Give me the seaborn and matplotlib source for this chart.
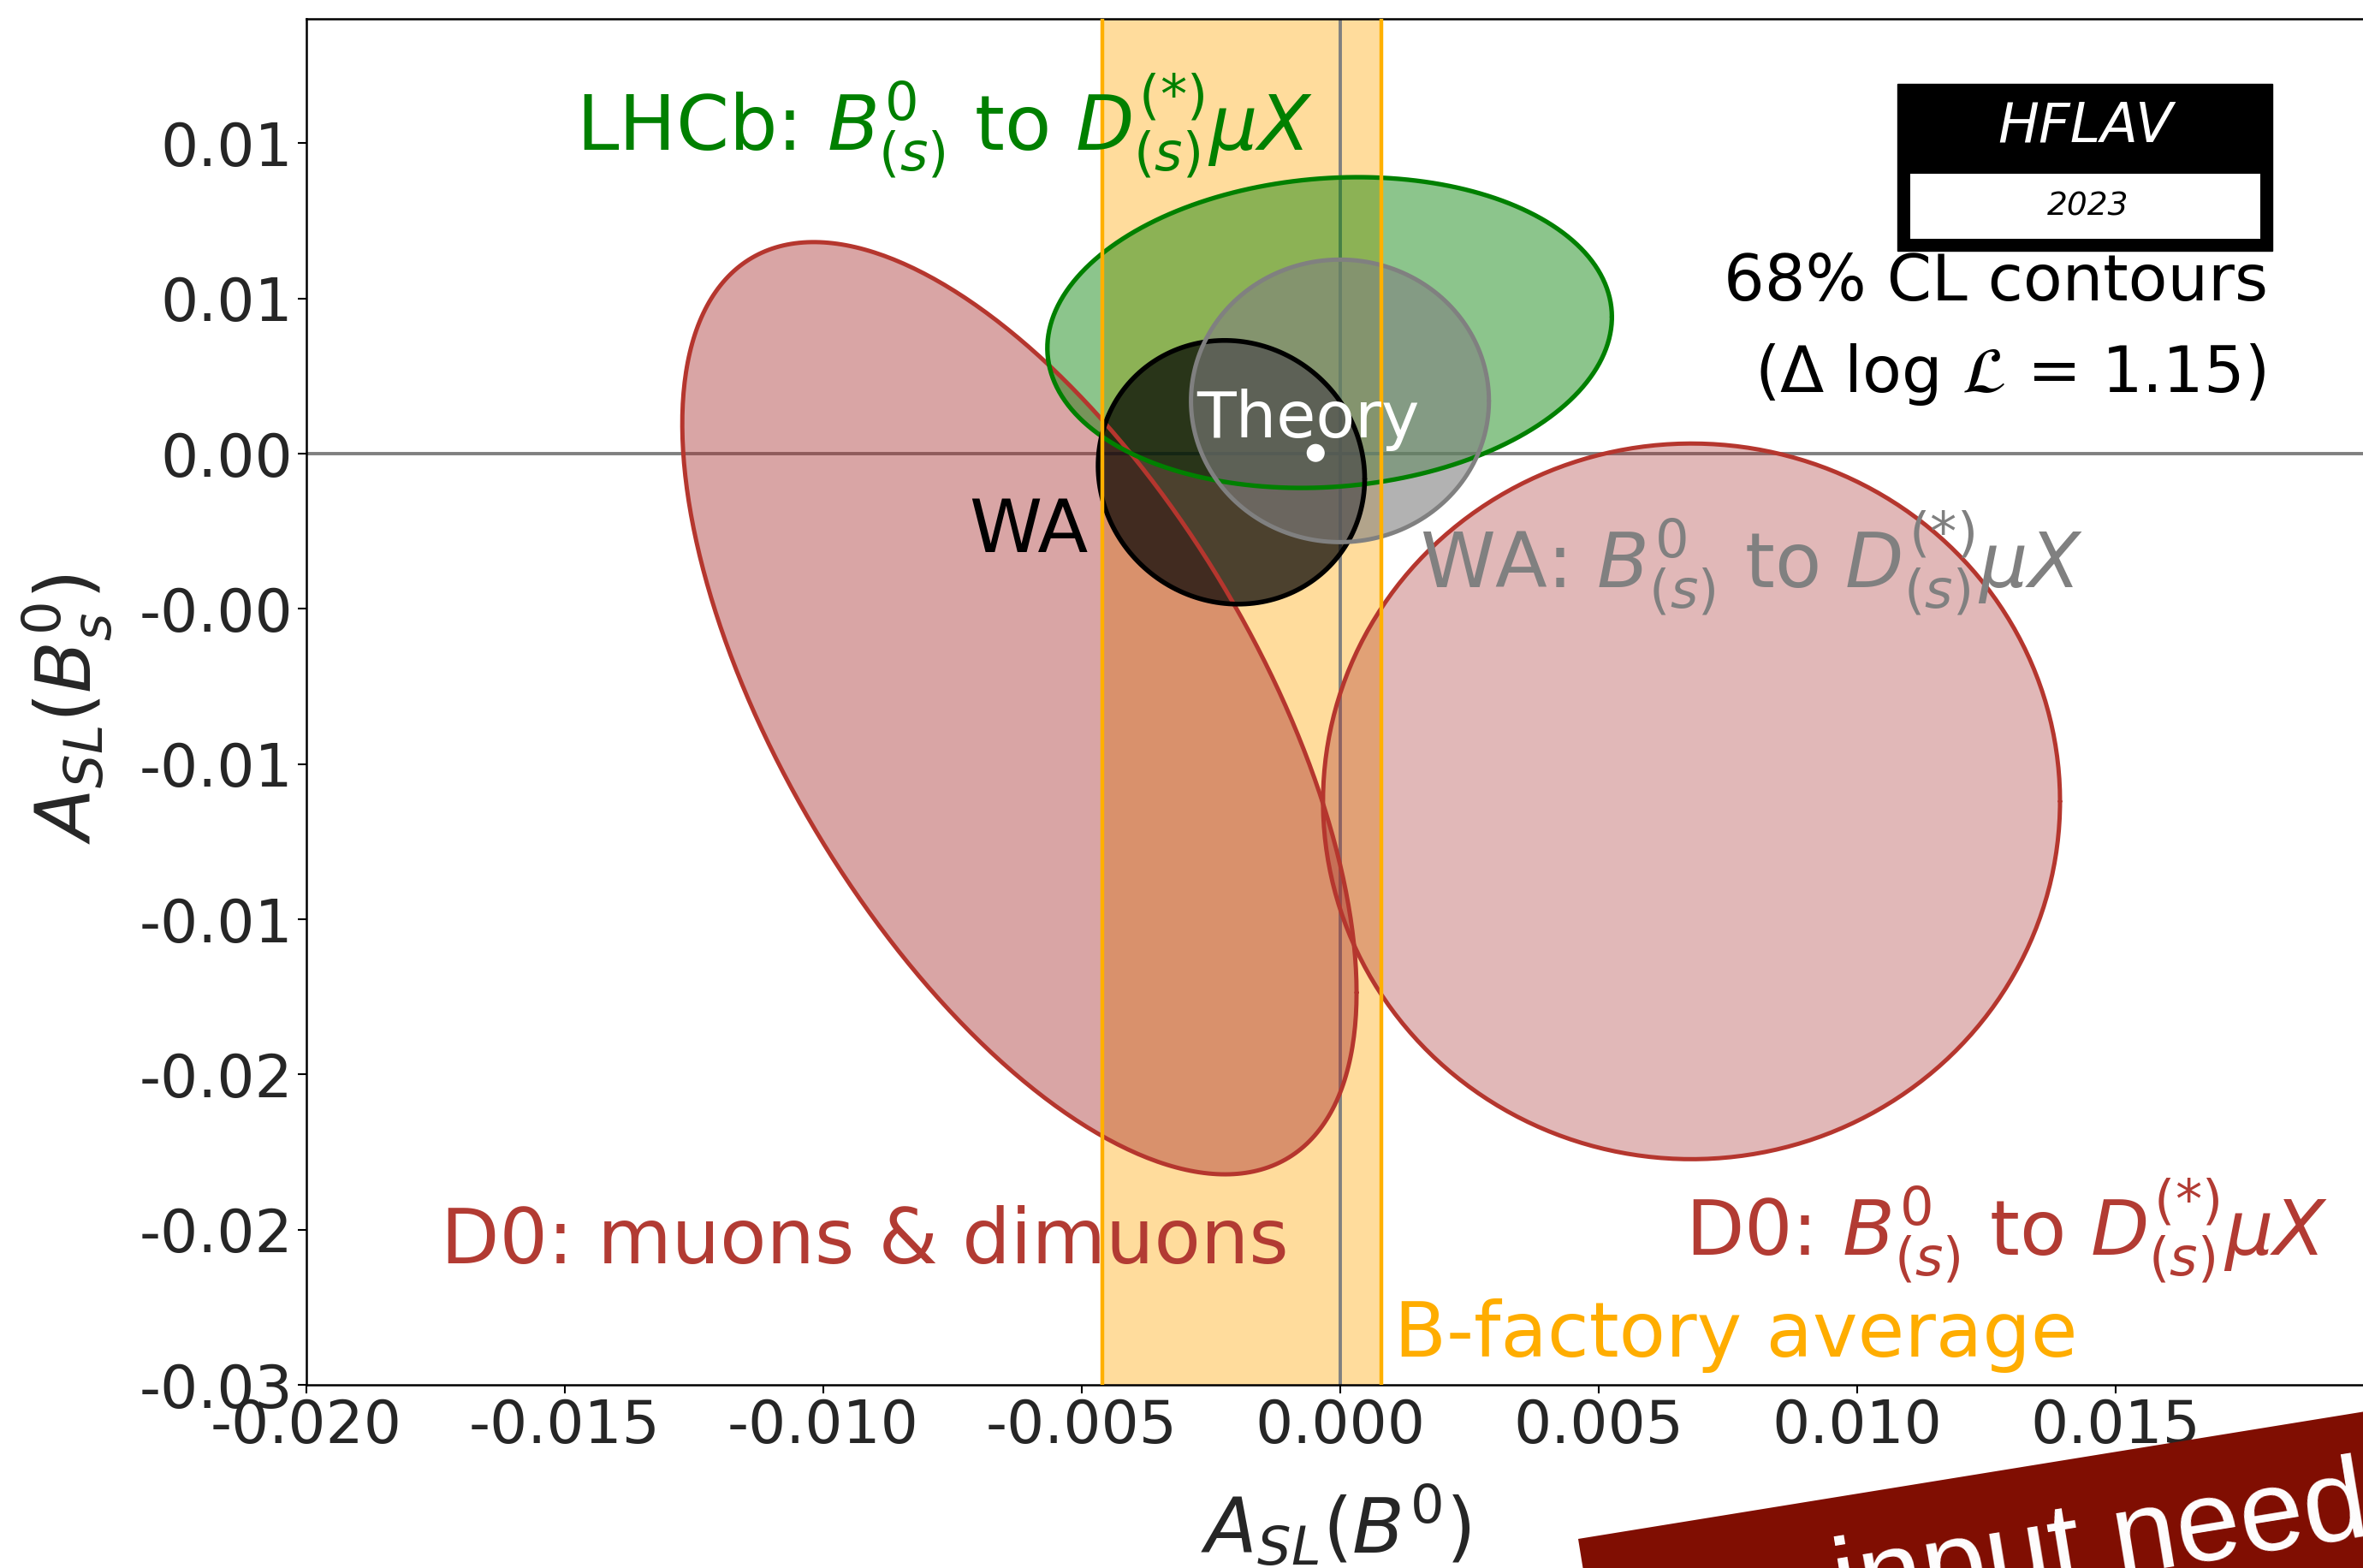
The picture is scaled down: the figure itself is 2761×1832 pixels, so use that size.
import numpy as np
import matplotlib
matplotlib.use("Agg")
import matplotlib.pyplot as plt
import seaborn as sns
import pandas as pd
from matplotlib.patches import Polygon, Rectangle

# ---------------- data ----------------
contour_names = ["D0: muons & dimuons", "D0: B to DmuX", "LHCb: B to DmuX", "WA", "WA: B to DmuX"]
center_x = [-0.0062, 0.0068, -0.0002, -0.0021, 0.0000]
center_y = [-0.0082, -0.0112, 0.0039, -0.0006, 0.0017]
sigma_x = [0.0043, 0.0047, 0.0036, 0.0017, 0.0019]
sigma_y = [0.0099, 0.0076, 0.0033, 0.0028, 0.0030]
corr = [-0.61, 0.0, 0.10, -0.05, 0.0]
delta_logL = 1.15

bfactory_mean = -0.0019
bfactory_err = 0.0027

theory_x = [-0.00047]
theory_y = [0.0000222]

xticks = [-0.020, -0.015, -0.010, -0.005, 0.000, 0.005, 0.010, 0.015, 0.020]
xtick_labels = ["-0.020", "-0.015", "-0.010", "-0.005", "0.000", "0.005", "0.010", "0.015", ""]
yticks = [-0.030, -0.025, -0.020, -0.015, -0.010, -0.005, 0.000, 0.005, 0.010]
ytick_labels = ["-0.03", "-0.02", "-0.02", "-0.01", "-0.01", "-0.00", "0.00", "0.01", "0.01"]

# ---------------- style ----------------
sns.set_theme(style="ticks")
plt.rcParams["font.family"] = ["DejaVu Sans"]
plt.rcParams["mathtext.fontset"] = "dejavusans"

W, H = 2761, 1832
fig = plt.figure(figsize=(W / 100, H / 100), dpi=100)
ax_left, ax_right = 357.5, 2773.8
ax_top, ax_bottom = 22.2, 1618.2
ax = fig.add_axes([ax_left / W, 1 - ax_bottom / H, (ax_right - ax_left) / W, (ax_bottom - ax_top) / H])
ax.set_xlim(-0.020, 0.020)
ax.set_ylim(-0.030, 0.0140)

fill_colors = ["brown", "brown", "green", "black", "gray"]
fill_alphas = [0.42, 0.33, 0.45, 0.70, 0.60]
edge_colors = ["#b5362e", "#b5362e", "green", "black", "gray"]
edge_lw = [3.6, 3.6, 3.8, 4.0, 3.6]

# B-factory band
lo, hi = bfactory_mean - bfactory_err, bfactory_mean + bfactory_err
ax.axvspan(lo, hi, color="orange", alpha=0.39, lw=0, zorder=1)
ax.axvline(lo, color="#ffb000", lw=3.2, zorder=6)
ax.axvline(hi, color="#ffb000", lw=3.2, zorder=6)

# axis lines
ax.axhline(0, color="gray", lw=2.8, zorder=1.5)
ax.axvline(0, color="gray", lw=2.8, zorder=1.5)

k = np.sqrt(2 * delta_logL)
t = np.linspace(0, 2 * np.pi, 400)
curves = []
for i in range(len(contour_names)):
    ex = center_x[i] + k * sigma_x[i] * np.cos(t)
    ey = center_y[i] + k * sigma_y[i] * (corr[i] * np.cos(t) + np.sqrt(1 - corr[i] ** 2) * np.sin(t))
    curves.append((ex, ey))
    ax.fill(ex, ey, color=fill_colors[i], alpha=fill_alphas[i], lw=0, zorder=2 + i * 0.1)
for i, (ex, ey) in enumerate(curves):
    ax.plot(ex, ey, color=edge_colors[i], lw=edge_lw[i], zorder=5 + i * 0.1)

# theory point
df_th = pd.DataFrame({"x": theory_x, "y": theory_y})
sns.scatterplot(data=df_th, x="x", y="y", ax=ax, color="white", s=230, edgecolor="none", zorder=7, legend=False)

# texts
ax.text(-0.01478, 0.00976, r"LHCb: $B^0_{(s)}$ to $D^{(*)}_{(s)}\mu X$", color="green", fontsize=64, va="baseline", zorder=8)
ax.text(-0.00717, -0.00316, "WA", color="black", fontsize=62, va="baseline", zorder=8)
ax.text(0.00154, -0.00432, r"WA: $B^0_{(s)}$ to $D^{(*)}_{(s)}\mu X$", color="gray", fontsize=64, va="baseline", zorder=8)
ax.text(-0.0174, -0.02607, "D0: muons & dimuons", color="#b23b33", fontsize=64, va="baseline", zorder=8)
ax.text(0.00667, -0.02583, r"D0: $B^0_{(s)}$ to $D^{(*)}_{(s)}\mu X$", color="#b23b33", fontsize=64, va="baseline", zorder=8)
ax.text(0.00105, -0.02908, "B-factory average", color="#ffad00", fontsize=64, va="baseline", zorder=8)
ax.text(-0.00062, 0.00053, "Theory", color="white", fontsize=54, va="baseline", ha="center", zorder=8)

def fx(x):
    return x / W

def fy(y):
    return 1 - y / H

fig.text(fx(2650), fy(331), "68% CL contours", fontsize=54, ha="right", va="center", color="black")
fig.text(fx(2647), fy(438), r"($\Delta$ log $\mathcal{L}$ = 1.15)", fontsize=54, ha="right", va="center", color="black")

# HFLAV logo
fig.add_artist(Rectangle((fx(2217), fy(293)), (2655 - 2217) / W, (293 - 98) / H, transform=fig.transFigure,
                         facecolor="black", edgecolor="black", lw=1, zorder=20))
fig.add_artist(Rectangle((fx(2232), fy(279)), (2641 - 2232) / W, (279 - 203) / H, transform=fig.transFigure,
                         facecolor="white", edgecolor="none", zorder=21))
fig.text(fx(2437), fy(147), "HFLAV", color="white", fontsize=46, style="italic", ha="center", va="center", zorder=22)
fig.text(fx(2440), fy(241), "2023", color="black", fontsize=27, style="italic", ha="center", va="center", zorder=22)

# ticks and labels
ax.set_xticks(xticks)
ax.set_xticklabels(xtick_labels)
ax.set_yticks(yticks)
ax.set_yticklabels(ytick_labels)
ax.tick_params(axis="both", labelsize=50, length=7, width=1.5, direction="out", color="black", pad=4)
for s in ax.spines.values():
    s.set_linewidth(1.8)
    s.set_color("black")

ax.set_xlabel(r"$A_{SL}(B^0)$", fontsize=64)
ax.set_ylabel(r"$A_{SL}(B_s^0)$", fontsize=64)
ax.xaxis.label.set_va("center")
ax.yaxis.label.set_va("center")
ax.xaxis.set_label_coords(0.4977, -0.104)
ax.yaxis.set_label_coords(-0.1153, 0.4951)

# banner overlay
theta = np.deg2rad(9.2)
p0 = np.array([1844.0, 1798.0])
u = np.array([np.cos(theta), -np.sin(theta)])
v = np.array([np.sin(theta), np.cos(theta)])
Lb, Hb = 1400.0, 400.0
corners = [p0, p0 + Lb * u, p0 + Lb * u + Hb * v, p0 + Hb * v]
poly = Polygon([(fx(c[0]), fy(c[1])) for c in corners], closed=True, transform=fig.transFigure,
               facecolor="#800e02", edgecolor="none", zorder=30)
fig.add_artist(poly)
fig.text(fx(2150), fy(1893), "input needed", color="white", fontsize=97, family="Liberation Sans",
         rotation=9.2, rotation_mode="anchor", ha="left", va="baseline", zorder=31)

fig.savefig("out.png", dpi=100)
